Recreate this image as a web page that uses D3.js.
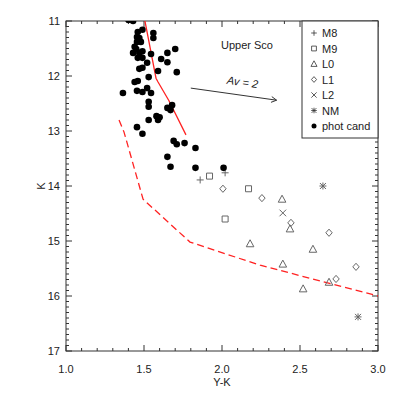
<!DOCTYPE html>
<html>
<head>
<meta charset="utf-8">
<script src="https://d3js.org/d3.v7.min.js"></script>
<style>
  body {margin: 0; background: #fff;}
  svg {font-family: "Liberation Sans", Arial, sans-serif;}
</style>
</head>
<body>
<svg id="chart" width="399" height="399"></svg>
<script>
// photometric candidates (Y-K, K)
var photX = [1.40,1.43,1.49,1.46,1.56,1.56,1.455,1.47,1.455,1.48,1.44,1.45,1.49,1.43,1.47,1.545,1.70,1.65,
  1.46,1.49,1.61,1.65,1.52,1.49,1.47,1.59,1.71,1.53,1.44,1.46,1.365,1.455,1.49,1.52,1.545,1.53,1.53,1.68,
  1.65,1.67,1.58,1.60,1.59,1.53,1.455,1.49,1.69,1.71,1.76,1.83,1.65,1.67,1.83,2.01];
var photK = [10.98,11.0,11.16,11.20,11.22,11.31,11.29,11.31,11.38,11.38,11.47,11.51,11.55,11.58,11.58,11.60,11.51,11.58,
  11.67,11.67,11.69,11.75,11.76,11.85,11.87,11.91,11.93,12.02,12.11,12.09,12.31,12.27,12.29,12.22,12.31,12.47,12.56,12.53,
  12.58,12.62,12.73,12.75,12.80,12.80,12.93,13.05,13.18,13.24,13.22,13.31,13.47,13.65,13.67,13.67];

// spectroscopic objects by type
var m8X = [1.86, 2.02], m8K = [13.89, 13.76];
var m9X = [1.92, 2.17, 2.02], m9K = [13.82, 14.05, 14.60];
var l0X = [2.385, 2.436, 2.18, 2.583, 2.39, 2.686, 2.52], l0K = [14.24, 14.78, 15.05, 15.15, 15.42, 15.75, 15.87];
var l1X = [2.006, 2.256, 2.442, 2.686, 2.859, 2.731], l1K = [14.05, 14.22, 14.67, 14.85, 15.47, 15.69];
var l2X = [2.39], l2K = [14.49];
var nmX = [2.647, 2.872], nmK = [14.0, 16.38];

// isochrone (solid) and limit (dashed)
var isoX = [1.50, 1.506, 1.577, 1.590, 1.660, 1.769], isoK = [10.9, 11.0, 12.04, 12.11, 12.45, 13.07];
var limX = [1.340, 1.372, 1.494, 1.795, 2.244, 3.0], limK = [12.80, 13.02, 14.24, 15.02, 15.44, 16.0];

// reddening vector
var avX = [1.80, 2.35], avK = [12.22, 12.44];

var legendLabels = ["M8", "M9", "L0", "L1", "L2", "NM", "phot cand"];

var svg = d3.select("#chart");
var L = 66, R = 378, T = 21, B = 351;
var x = d3.scaleLinear().domain([1.0, 3.0]).range([L, R]);
var y = d3.scaleLinear().domain([11, 17]).range([T, B]);
var axisCol = "#333", grey = "#666";

svg.append("clipPath").attr("id", "clip").append("rect")
  .attr("x", L).attr("y", T).attr("width", R - L).attr("height", B - T);

// axes on all four sides, ticks inside
function minor(step, dom) { return d3.range(dom[0], dom[1] + 1e-9, step); }
var xMaj = d3.range(1.0, 3.01, 0.5), xMin = minor(0.1, [1.0, 3.0]);
var yMaj = d3.range(11, 17.01, 1), yMin = minor(0.1, [11, 17]);

var ax = svg.append("g").attr("stroke", axisCol).attr("stroke-width", 1);
ax.append("rect").attr("x", L).attr("y", T).attr("width", R - L).attr("height", B - T).attr("fill", "none");
xMin.forEach(function(v) {
  var big = xMaj.some(function(m) { return Math.abs(m - v) < 1e-6; }), len = big ? 6 : 3;
  ax.append("line").attr("x1", x(v)).attr("x2", x(v)).attr("y1", B).attr("y2", B - len);
  ax.append("line").attr("x1", x(v)).attr("x2", x(v)).attr("y1", T).attr("y2", T + len);
});
yMin.forEach(function(v) {
  var big = yMaj.some(function(m) { return Math.abs(m - v) < 1e-6; }), len = big ? 6 : 3;
  ax.append("line").attr("y1", y(v)).attr("y2", y(v)).attr("x1", L).attr("x2", L + len);
  ax.append("line").attr("y1", y(v)).attr("y2", y(v)).attr("x1", R).attr("x2", R - len);
});

svg.append("g").selectAll("text").data(xMaj).join("text")
  .attr("x", function(d) { return x(d); }).attr("y", B + 22)
  .attr("text-anchor", "middle").attr("font-size", 11).attr("fill", "#222")
  .text(function(d) { return d.toFixed(1); });
svg.append("g").selectAll("text").data(yMaj).join("text")
  .attr("x", L - 6).attr("y", function(d) { return y(d) + 4; })
  .attr("text-anchor", "end").attr("font-size", 11).attr("fill", "#222")
  .text(function(d) { return d; });
svg.append("text").attr("x", (L + R) / 2).attr("y", B + 35).attr("text-anchor", "middle")
  .attr("font-size", 11).attr("fill", "#222").text("Y-K");
svg.append("text").attr("transform", "translate(45," + ((T + B) / 2) + ") rotate(-90)")
  .attr("text-anchor", "middle").attr("font-size", 11).attr("fill", "#222").text("K");

var plot = svg.append("g").attr("clip-path", "url(#clip)");

// lines
var line = d3.line().x(function(d) { return x(d[0]); }).y(function(d) { return y(d[1]); });
plot.append("path").datum(d3.zip(isoX, isoK)).attr("d", line)
  .attr("fill", "none").attr("stroke", "#f22").attr("stroke-width", 1.3);
plot.append("path").datum(d3.zip(limX, limK)).attr("d", line)
  .attr("fill", "none").attr("stroke", "#f22").attr("stroke-width", 1.3).attr("stroke-dasharray", "7,4");

// marker shapes (relative paths)
var shapes = {
  plus: "M-3.5,0H3.5M0,-3.5V3.5",
  square: "M-3,-3H3V3H-3Z",
  tri: "M0,-4L3.8,3H-3.8Z",
  diamond: "M0,-3.6L3.2,0L0,3.6L-3.2,0Z",
  cross: "M-3.3,-3.3L3.3,3.3M-3.3,3.3L3.3,-3.3",
  star: "M-3,-3L3,3M-3,3L3,-3M0,-3.5V3.5M-3.5,0H3.5"
};
function drawSet(g, xs, ks, shape) {
  g.selectAll(null).data(d3.zip(xs, ks)).join("path")
    .attr("transform", function(d) { return "translate(" + x(d[0]) + "," + y(d[1]) + ")"; })
    .attr("d", shapes[shape]).attr("fill", "none").attr("stroke", grey).attr("stroke-width", 1);
}
drawSet(plot, m8X, m8K, "plus");
drawSet(plot, m9X, m9K, "square");
drawSet(plot, l0X, l0K, "tri");
drawSet(plot, l1X, l1K, "diamond");
drawSet(plot, l2X, l2K, "cross");
drawSet(plot, nmX, nmK, "star");

plot.selectAll(null).data(d3.zip(photX, photK)).join("circle")
  .attr("cx", function(d) { return x(d[0]); }).attr("cy", function(d) { return y(d[1]); })
  .attr("r", 3.3).attr("fill", "#000");

// reddening arrow
var a0 = [x(avX[0]), y(avK[0])], a1 = [x(avX[1]), y(avK[1])];
var ang = Math.atan2(a1[1] - a0[1], a1[0] - a0[0]);
svg.append("line").attr("x1", a0[0]).attr("y1", a0[1]).attr("x2", a1[0]).attr("y2", a1[1])
  .attr("stroke", "#333").attr("stroke-width", 1);
[0.5, -0.5].forEach(function(s) {
  svg.append("line").attr("x1", a1[0]).attr("y1", a1[1])
    .attr("x2", a1[0] - 6 * Math.cos(ang + s)).attr("y2", a1[1] - 6 * Math.sin(ang + s))
    .attr("stroke", "#333").attr("stroke-width", 1);
});
svg.append("text").attr("transform", "translate(242,86) rotate(" + (ang * 180 / Math.PI) + ")")
  .attr("text-anchor", "middle").attr("font-size", 11).attr("font-style", "italic").attr("fill", "#222")
  .text("Av = 2");

svg.append("text").attr("x", 247).attr("y", 49).attr("text-anchor", "middle")
  .attr("font-size", 11).attr("fill", "#222").text("Upper Sco");

// legend
var lg = svg.append("g");
lg.append("rect").attr("x", 302).attr("y", T).attr("width", R - 302).attr("height", 117)
  .attr("fill", "#fff").attr("stroke", axisCol).attr("stroke-width", 1);
var legShapes = ["plus", "square", "tri", "diamond", "cross", "star", "dot"];
legendLabels.forEach(function(lab, i) {
  var yy = 33 + i * 15.5;
  if (legShapes[i] === "dot") {
    lg.append("circle").attr("cx", 314).attr("cy", yy).attr("r", 2.5).attr("fill", "#000");
  } else {
    lg.append("path").attr("transform", "translate(314," + yy + ") scale(0.8)")
      .attr("d", shapes[legShapes[i]]).attr("fill", "none").attr("stroke", "#333");
  }
  lg.append("text").attr("x", 322).attr("y", yy + 4).attr("font-size", 11).attr("fill", "#222").text(lab);
});
</script>
</body>
</html>
